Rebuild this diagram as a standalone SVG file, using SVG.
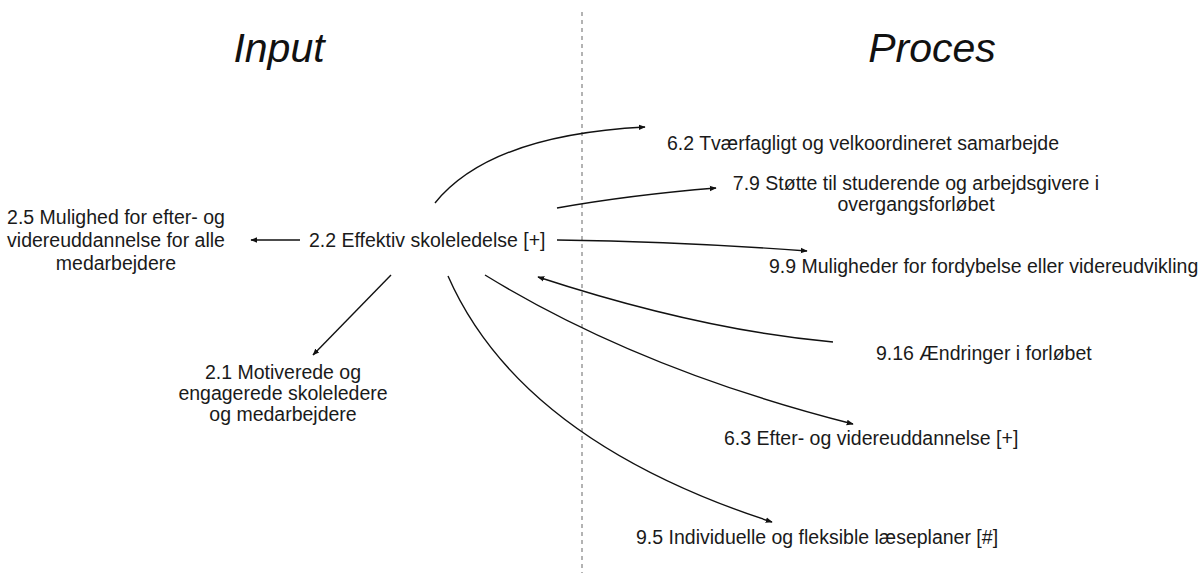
<svg xmlns="http://www.w3.org/2000/svg" width="1200" height="573" viewBox="0 0 1200 573">
  <style>
    .title { font-family: "Liberation Sans", Arial, sans-serif; font-style: italic; font-size: 41px; fill: #111; }
    .label { font-family: "Liberation Sans", Arial, sans-serif; font-size: 19.5px; fill: #1a1a1a; }
    .mid { text-anchor: middle; }
    .conn { fill: none; stroke: #111; stroke-width: 1.4; marker-end: url(#head); }
    .divider { stroke: #9a9a9a; stroke-width: 1.5; stroke-dasharray: 4 4; }
  </style>
  <defs>
    <marker id="head" viewBox="0 0 10 10" refX="9" refY="5" markerWidth="7" markerHeight="7" markerUnits="userSpaceOnUse" orient="auto">
      <path d="M0,1 L10,5 L0,9 Z" fill="#111"/>
    </marker>
  </defs>
  <rect width="1200" height="573" fill="#ffffff"/>

  <!-- column divider and headings -->
  <line class="divider" x1="582" y1="12" x2="582" y2="573"/>
  <text class="title mid" x="279" y="62">Input</text>
  <text class="title mid" x="932" y="62">Proces</text>

  <!-- connectors -->
  <g id="connectors">
    <path class="conn" d="M435,203 Q490,135 645,127"/>
    <path class="conn" d="M557,208 Q630,195 716,188"/>
    <path class="conn" d="M557,240 Q690,242 807,251"/>
    <path class="conn" d="M300,240 L251,240"/>
    <path class="conn" d="M391,275 L313,355"/>
    <path class="conn" d="M448,276 Q520,440 772,522"/>
    <path class="conn" d="M485,275 Q640,370 853,424"/>
    <path class="conn" d="M833,342 Q700,330 538,277"/>
  </g>

  <!-- nodes -->
  <g id="n22">
    <text class="label" x="309" y="247">2.2 Effektiv skoleledelse [+]</text>
  </g>
  <g id="n25">
    <text class="label mid" x="116" y="224">2.5 Mulighed for efter- og</text>
    <text class="label mid" x="116" y="247">videreuddannelse for alle</text>
    <text class="label mid" x="116" y="270">medarbejdere</text>
  </g>
  <g id="n21">
    <text class="label mid" x="283" y="379">2.1 Motiverede og</text>
    <text class="label mid" x="283" y="400">engagerede skoleledere</text>
    <text class="label mid" x="283" y="421">og medarbejdere</text>
  </g>
  <g id="n62">
    <text class="label" x="667" y="150">6.2 Tværfagligt og velkoordineret samarbejde</text>
  </g>
  <g id="n79">
    <text class="label mid" x="916" y="190">7.9 Støtte til studerende og arbejdsgivere i</text>
    <text class="label mid" x="916" y="211">overgangsforløbet</text>
  </g>
  <g id="n99">
    <text class="label" x="769" y="273">9.9 Muligheder for fordybelse eller videreudvikling</text>
  </g>
  <g id="n916">
    <text class="label" x="876" y="360">9.16 Ændringer i forløbet</text>
  </g>
  <g id="n63">
    <text class="label" x="724" y="445">6.3 Efter- og videreuddannelse [+]</text>
  </g>
  <g id="n95">
    <text class="label" x="636" y="544">9.5 Individuelle og fleksible læseplaner [#]</text>
  </g>
</svg>
